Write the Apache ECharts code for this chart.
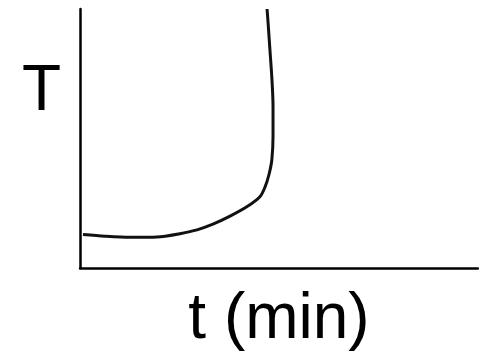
<!DOCTYPE html>
<html>
<head>
<meta charset="utf-8">
<script src="https://cdn.jsdelivr.net/npm/echarts@6/dist/echarts.min.js"></script>
<style>
html,body{margin:0;padding:0;background:#fff;}
#chart{width:479px;height:357px;}
</style>
</head>
<body>
<div id="chart"></div>
<script>
// Sketch curve of T versus t (arbitrary units, 0-100 on both axes)
var tValues = [0.75, 6.3, 12.6, 17.6, 21.4, 25.1, 29.4, 33.4, 37.7, 42.0, 45.2, 46.5, 47.5, 48.2, 48.5, 48.5, 48.2, 47.7, 47.2, 47.0];
var TValues = [12.95, 12.3, 11.9, 11.9, 12.3, 13.2, 14.7, 16.9, 20.0, 23.7, 27.5, 31.3, 36.2, 41.8, 51.1, 62.3, 73.5, 84.7, 95.9, 100];
var xAxisName = 't (min)';
var yAxisName = 'T';

var points = tValues.map(function (t, i) { return [t, TValues[i]]; });

var chart = echarts.init(document.getElementById('chart'), null, {renderer: 'canvas'});
var font = '"Liberation Sans", Arial, sans-serif';
chart.setOption({
  animation: false,
  backgroundColor: '#fff',
  grid: {left: 80, right: 1, top: 9, bottom: 80, containLabel: false},
  xAxis: {
    type: 'value', min: 0, max: 100,
    name: xAxisName, nameLocation: 'middle', nameGap: 20,
    nameTextStyle: {fontSize: 64, color: '#000', fontFamily: font},
    axisLine: {show: true, onZero: false, lineStyle: {color: '#000', width: 2.5}},
    axisTick: {show: false}, axisLabel: {show: false}, splitLine: {show: false}
  },
  yAxis: {
    type: 'value', min: 0, max: 100,
    axisLine: {show: true, onZero: false, lineStyle: {color: '#000', width: 2.5}},
    axisTick: {show: false}, axisLabel: {show: false}, splitLine: {show: false}
  },
  graphic: [{
    type: 'text', left: 22, top: 60,
    style: {text: yAxisName, fontSize: 64, fill: '#000', font: '64px ' + font}
  }],
  series: [{
    type: 'line', data: points, smooth: 0.3, showSymbol: false, clip: false,
    lineStyle: {color: '#111', width: 3}
  }]
});
</script>
</body>
</html>
